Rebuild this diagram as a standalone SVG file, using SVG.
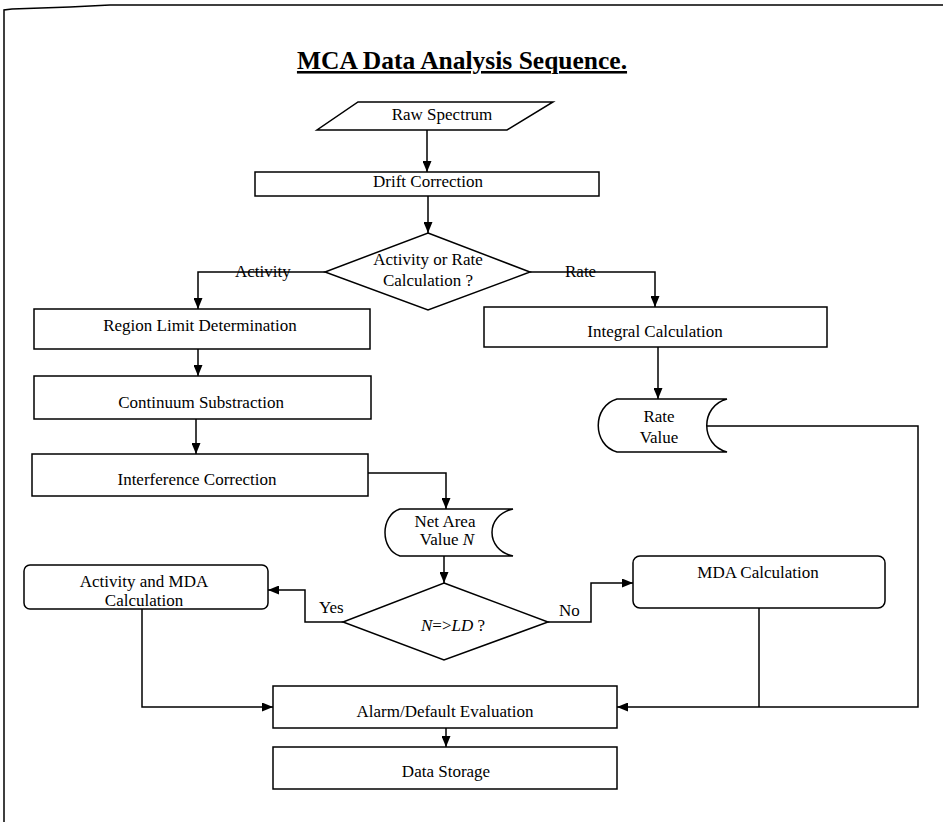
<svg xmlns="http://www.w3.org/2000/svg" width="943" height="822" viewBox="0 0 943 822">
<style>
.bg{fill:#ffffff}
.sh{fill:#ffffff;stroke:#000;stroke-width:1.5}
.ln{fill:none;stroke:#000;stroke-width:1.5}
.t{font-family:"Liberation Serif","Times New Roman",serif;font-size:17px;fill:#000;text-anchor:middle}
.tl{font-family:"Liberation Serif","Times New Roman",serif;font-size:17px;fill:#000}
.title{font-family:"Liberation Serif","Times New Roman",serif;font-size:25.5px;font-weight:bold;fill:#000;text-anchor:middle;text-decoration:underline}
</style>
<defs>
<marker id="ah" markerUnits="userSpaceOnUse" markerWidth="11" markerHeight="9" refX="11" refY="4.5" orient="auto">
<path d="M0,0 L11,4.5 L0,9 Z" fill="#000"/>
</marker>
</defs>
<rect class="bg" x="0" y="0" width="943" height="822"/>
<path class="ln" d="M4,822 V10 L12,9 L70,7 L110,5 L943,5" stroke-width="2"/>
<text class="title" x="462" y="69">MCA Data Analysis Sequence.</text>

<g id="connectors">
<path class="ln" d="M427,130 V172" marker-end="url(#ah)"/>
<path class="ln" d="M428,196 V233" marker-end="url(#ah)"/>
<path class="ln" d="M325,272 H198 V309" marker-end="url(#ah)"/>
<path class="ln" d="M530,272 H655 V307" marker-end="url(#ah)"/>
<path class="ln" d="M198,349 V376" marker-end="url(#ah)"/>
<path class="ln" d="M196,419 V454" marker-end="url(#ah)"/>
<path class="ln" d="M368,473 H446 V509" marker-end="url(#ah)"/>
<path class="ln" d="M658,347 V399" marker-end="url(#ah)"/>
<path class="ln" d="M444,556 V583" marker-end="url(#ah)"/>
<path class="ln" d="M343,622 H305 V590 H268" marker-end="url(#ah)"/>
<path class="ln" d="M548,622 H591 V583 H633" marker-end="url(#ah)"/>
<path class="ln" d="M142,609 V707 H273" marker-end="url(#ah)"/>
<path class="ln" d="M707,426 H918 V707 H617" marker-end="url(#ah)"/>
<path class="ln" d="M759,608 V707"/>
<path class="ln" d="M446,728 V747" marker-end="url(#ah)"/>
<text class="tl" x="235" y="277">Activity</text>
<text class="tl" x="565" y="277">Rate</text>
<text class="tl" x="319" y="613">Yes</text>
<text class="tl" x="559" y="616">No</text>
</g>

<g id="raw">
<polygon class="sh" points="358,102 553,102 507,130 317,130"/>
<text class="t" x="442" y="120">Raw Spectrum</text>
</g>
<g id="drift">
<rect class="sh" x="255" y="172" width="344" height="24"/>
<text class="t" x="428" y="187">Drift Correction</text>
</g>
<g id="decision1">
<polygon class="sh" points="428,233 530,272 428,310 325,272"/>
<text class="t" x="428" y="265">Activity or Rate</text>
<text class="t" x="428" y="286">Calculation ?</text>
</g>
<g id="region">
<rect class="sh" x="34" y="309" width="336" height="40"/>
<text class="t" x="200" y="331">Region Limit Determination</text>
</g>
<g id="integral">
<rect class="sh" x="484" y="307" width="343" height="40"/>
<text class="t" x="655" y="337">Integral Calculation</text>
</g>
<g id="continuum">
<rect class="sh" x="34" y="376" width="337" height="43"/>
<text class="t" x="201" y="408">Continuum Substraction</text>
</g>
<g id="interference">
<rect class="sh" x="32" y="454" width="336" height="42"/>
<text class="t" x="197" y="485">Interference Correction</text>
</g>
<g id="ratevalue">
<path class="sh" d="M617,399 H727 C700,406 700,445 727,452 H617 C592,445 592,406 617,399 Z"/>
<text class="t" x="659" y="422">Rate</text>
<text class="t" x="659" y="443">Value</text>
</g>
<g id="netarea">
<path class="sh" d="M400,509 H513 C485,515 485,550 513,556 H400 C380,550 380,515 400,509 Z"/>
<text class="t" x="445" y="527">Net Area</text>
<text class="t" x="447" y="545">Value <tspan font-style="italic">N</tspan></text>
</g>
<g id="decision2">
<polygon class="sh" points="444,583 548,622 444,660 343,622"/>
<text class="t" x="453" y="631"><tspan font-style="italic">N</tspan>=&gt;<tspan font-style="italic">LD</tspan> ?</text>
</g>
<g id="activitymda">
<rect class="sh" x="24" y="565" width="244" height="44" rx="6"/>
<text class="t" x="144" y="587">Activity and MDA</text>
<text class="t" x="144" y="606">Calculation</text>
</g>
<g id="mda">
<rect class="sh" x="633" y="556" width="252" height="52" rx="7"/>
<text class="t" x="758" y="578">MDA Calculation</text>
</g>
<g id="alarm">
<rect class="sh" x="273" y="686" width="344" height="42"/>
<text class="t" x="445" y="717">Alarm/Default Evaluation</text>
</g>
<g id="storage">
<rect class="sh" x="273" y="747" width="344" height="42"/>
<text class="t" x="446" y="777">Data Storage</text>
</g>
</svg>
